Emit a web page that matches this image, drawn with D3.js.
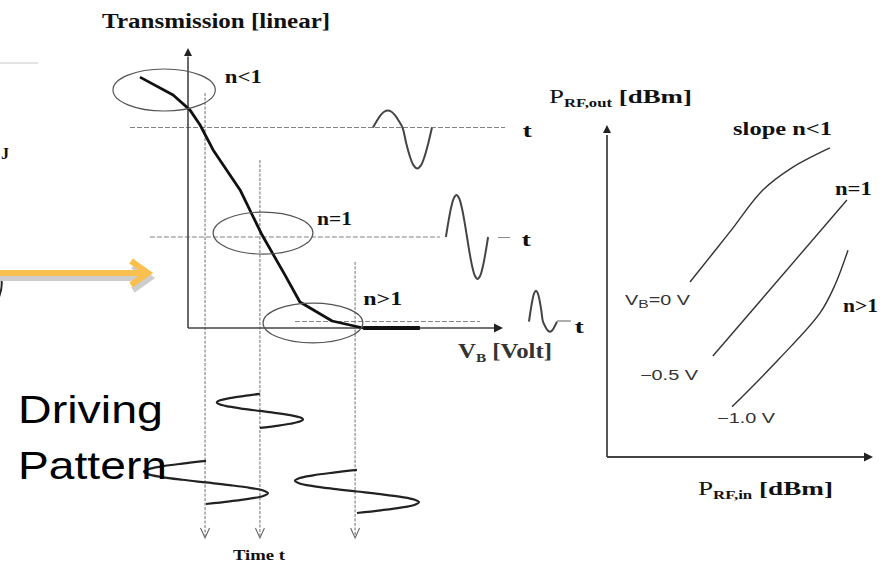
<!DOCTYPE html>
<html>
<head>
<meta charset="utf-8">
<script src="https://cdn.jsdelivr.net/npm/d3@7"></script>
<style>
  body { margin: 0; background: #fff; }
  svg { display: block; }
</style>
</head>
<body>
<script>
// ---- left panel : transmission vs bias (units 0..100 on both axes) ----
var transVB = [-15.5, -4.8, 0.6, 3.9, 8.1, 16.8, 23.9, 31.3, 36.1, 46.5, 56.5];
var transT  = [89.6, 83.2, 77.9, 72.5, 63.6, 49.3, 33.2, 18.9, 9.3, 2.5, 0];
var tailVB  = [56.5, 74.8];

var regimes   = ["n<1", "n=1", "n>1"];
var biasVB    = [5.5, 23.2, 53.9];     // drop lines to the time axis
var dropTop   = [83.9, 60, 23.6];
var levelT    = [71.6, 32.5, 2.3];     // output level for each bias
var levelFrom = [-18.7, -12.3, 34.5];
var levelTo   = [102.3, 81.3, 94.2];

var ellVB = [-7.7, 24.2, 40.3];
var ellT  = [85, 33.9, 1.8];
var ellRx = [16.5, 16.1, 16.1];
var ellRy = [7.5, 7.5, 7.1];

// one hand drawn cycle, reused for the output and drive waves
var cycle = [0, .383, .707, .924, 1, .924, .707, .383, 0, -.383, -.707, -.924, -1, -.924, -.707, -.383, 0];

var waveFrom = [59.7, 83.2, 110];
var waveTo   = [78.7, 96.8, 119];
var waveUp   = [6.1, 15, 11];
var waveDown = [14.6, 15, 3.6];

var driveVB  = [23.2, 5.8, 54.5];
var driveAmp = [13.9, 20, 20];
var driveT0  = [31.4, 63.3, 67.6];
var drivePer = [16.2, 20.5, 20.5];

// ---- right panel : Pout vs Pin ----
var biasNames = ["0 V", "\u22120.5 V", "\u22121.0 V"];
var pinA = [31.2, 46.2, 58.6, 69.9, 83.8], poutA = [52.7, 67.8, 80.4, 87.3, 93.1];
var pinB = [39.8, 90.2],                   poutB = [30.4, 77.4];
var pinC = [47, 65, 80.1, 85.7, 90.6],     poutC = [15.1, 29.8, 43.4, 51.8, 62.3];

var serif = "'Liberation Serif','Times New Roman',serif";
var sans = "'Liberation Sans',Arial,sans-serif";

var svg = d3.select("body").append("svg").attr("width", 893).attr("height", 564);

var xL = d3.scaleLinear().domain([0, 100]).range([188, 498]);
var yL = d3.scaleLinear().domain([0, 100]).range([328, 48]);
var tL = d3.scaleLinear().domain([0, 100]).range([328, 538]);
var xR = d3.scaleLinear().domain([0, 100]).range([607, 873]);
var yR = d3.scaleLinear().domain([0, 100]).range([457, 125]);

function label(x, y, str, size, w, opt) {
  opt = opt || {};
  var t = svg.append("text").attr("x", x).attr("y", y)
    .style("font-family", opt.family || serif)
    .style("font-weight", opt.weight || "bold")
    .style("font-size", size + "px")
    .attr("fill", opt.fill || "#111")
    .text(str);
  if (w) t.attr("textLength", w).attr("lengthAdjust", "spacingAndGlyphs");
  return t;
}
function subLabel(x, y, main, sub, rest, size, w, opt) {
  opt = opt || {};
  var t = svg.append("text").attr("x", x).attr("y", y)
    .style("font-family", opt.family || serif)
    .style("font-weight", "bold")
    .style("font-size", size + "px")
    .attr("fill", opt.fill || "#111");
  t.append("tspan").text(main).style("font-weight", opt.mainWeight || "bold");
  t.append("tspan").attr("dy", 4).style("font-size", (size * 0.62) + "px").text(sub);
  t.append("tspan").attr("dy", -4).text(rest);
  if (w) t.attr("textLength", w).attr("lengthAdjust", "spacingAndGlyphs");
  return t;
}

// slide leftovers on the left edge
svg.append("line").attr("x1", 0).attr("x2", 38).attr("y1", 63).attr("y2", 63)
  .attr("stroke", "#c8c8c8").attr("stroke-width", 1);
label(1, 159, "J", 17, 8);
svg.append("path").attr("d", "M-2,268 Q5,282 -1,297").attr("fill", "none")
  .attr("stroke", "#222").attr("stroke-width", 2);

// orange pointer arrow with its shadow
[["#cdcdcd", 2, 5], ["#F9C04F", 0, 0]].forEach(function(a) {
  var g = svg.append("g").attr("transform", "translate(" + a[1] + "," + a[2] + ")")
    .attr("stroke", a[0]).attr("stroke-width", 6).attr("fill", "none");
  g.append("line").attr("x1", -5).attr("x2", 144).attr("y1", 273).attr("y2", 273);
  g.append("path").attr("d", "M131,261 L148,273 L131,285").attr("stroke-linejoin", "miter");
});

// ---- left panel ----
// dashed output levels
levelT.forEach(function(v, i) {
  svg.append("line").attr("x1", xL(levelFrom[i])).attr("x2", xL(levelTo[i]))
    .attr("y1", yL(v)).attr("y2", yL(v))
    .attr("stroke", "#808080").attr("stroke-width", 1).attr("stroke-dasharray", "5,2");
});
svg.append("line").attr("x1", xL(100)).attr("x2", xL(103.9))
  .attr("y1", yL(32.3)).attr("y2", yL(32.3)).attr("stroke", "#888").attr("stroke-width", 1);
svg.append("line").attr("x1", xL(119)).attr("x2", xL(123.5))
  .attr("y1", yL(2.5)).attr("y2", yL(2.5)).attr("stroke", "#777").attr("stroke-width", 1.2);

// drop lines down to the time axis
biasVB.forEach(function(v, i) {
  var x = xL(v);
  svg.append("line").attr("x1", x).attr("x2", x).attr("y1", yL(dropTop[i])).attr("y2", tL(99))
    .attr("stroke", "#6e6e6e").attr("stroke-width", 1).attr("stroke-dasharray", "3,1.5");
  svg.append("path").attr("d", "M" + (x - 4.5) + "," + (tL(100) - 10) + " L" + x + "," + tL(100) + " L" + (x + 4.5) + "," + (tL(100) - 10))
    .attr("fill", "none").attr("stroke", "#666").attr("stroke-width", 1.1);
});

// axes
svg.append("line").attr("x1", xL(0)).attr("x2", xL(0)).attr("y1", yL(0)).attr("y2", yL(97))
  .attr("stroke", "#444").attr("stroke-width", 1.6);
svg.append("path").attr("d", "M" + (xL(0) - 4) + "," + (yL(100) + 8) + " L" + xL(0) + "," + yL(100) + " L" + (xL(0) + 4) + "," + (yL(100) + 8) + "Z")
  .attr("fill", "#222");
svg.append("line").attr("x1", xL(0)).attr("x2", xL(100)).attr("y1", yL(0)).attr("y2", yL(0))
  .attr("stroke", "#444").attr("stroke-width", 1.6);
svg.append("path").attr("d", "M" + (xL(100) - 4) + "," + (yL(0) - 4.5) + " L" + (xL(100) + 5) + "," + yL(0) + " L" + (xL(100) - 4) + "," + (yL(0) + 4.5) + "Z")
  .attr("fill", "#222");

// transmission curve
var lineL = d3.line().x(function(d) { return xL(d[0]); }).y(function(d) { return yL(d[1]); });
svg.append("path").datum(d3.zip(transVB, transT)).attr("d", lineL)
  .attr("fill", "none").attr("stroke", "#111").attr("stroke-width", 2.8).attr("stroke-linejoin", "round");
svg.append("path").datum(tailVB.map(function(v) { return [v, 0]; })).attr("d", lineL)
  .attr("fill", "none").attr("stroke", "#111").attr("stroke-width", 4);

// ellipses and regime labels
ellVB.forEach(function(v, i) {
  svg.append("ellipse").attr("cx", xL(v)).attr("cy", yL(ellT[i]))
    .attr("rx", xL(ellRx[i]) - xL(0)).attr("ry", yL(0) - yL(ellRy[i]))
    .attr("fill", "none").attr("stroke", "#555").attr("stroke-width", 1.2);
});
label(xL(11.9), yL(87.5), regimes[0], 18, 37);
label(xL(41.6), yL(36.8), regimes[1], 18, 35);
label(xL(56.5), yL(8.2), regimes[2], 18, 39);

// output waves
waveFrom.forEach(function(x0, i) {
  var pts = cycle.map(function(c, k) {
    var x = x0 + (waveTo[i] - x0) * k / (cycle.length - 1);
    return [x, levelT[i] + (c > 0 ? c * waveUp[i] : c * waveDown[i])];
  });
  svg.append("path").datum(pts).attr("d", lineL.curve(d3.curveCatmullRom))
    .attr("fill", "none").attr("stroke", "#444").attr("stroke-width", 2);
});
lineL.curve(d3.curveLinear);
label(xL(108), yL(68.2), "t", 18, 9);
label(xL(107.7), yL(29.3), "t", 18, 9);
label(xL(124.8), yL(-1.8), "t", 18, 9);

// drive patterns on the time axis
var lineT = d3.line().x(function(d) { return xL(d[0]); }).y(function(d) { return tL(d[1]); })
  .curve(d3.curveCatmullRom);
driveVB.forEach(function(v, i) {
  var pts = cycle.map(function(c, k) {
    return [v - driveAmp[i] * c, driveT0[i] + drivePer[i] * k / (cycle.length - 1)];
  });
  svg.append("path").datum(pts).attr("d", lineT)
    .attr("fill", "none").attr("stroke", "#222").attr("stroke-width", 2.2);
});

label(xL(-27.7), 28, "Transmission [linear]", 20, 228);
subLabel(xL(87.1), yL(-10.7), "V", "B", " [Volt]", 20, 94, { fill: "#333" });
label(xL(14.5), tL(110.5), "Time t", 14, 52);

label(18, 423, "Driving", 39, 145, { family: sans, weight: "normal", fill: "#000" });
label(18, 479, "Pattern", 39, 149, { family: sans, weight: "normal", fill: "#000" });

// ---- right panel ----
svg.append("line").attr("x1", xR(0)).attr("x2", xR(0)).attr("y1", yR(0)).attr("y2", yR(97))
  .attr("stroke", "#444").attr("stroke-width", 1.8);
svg.append("path").attr("d", "M" + (xR(0) - 4) + "," + (yR(100) + 8) + " L" + xR(0) + "," + yR(100) + " L" + (xR(0) + 4) + "," + (yR(100) + 8) + "Z")
  .attr("fill", "#222");
svg.append("line").attr("x1", xR(0)).attr("x2", xR(97)).attr("y1", yR(0)).attr("y2", yR(0))
  .attr("stroke", "#444").attr("stroke-width", 1.8);
svg.append("path").attr("d", "M" + (xR(100) - 9) + "," + (yR(0) - 4.5) + " L" + xR(100) + "," + yR(0) + " L" + (xR(100) - 9) + "," + (yR(0) + 4.5) + "Z")
  .attr("fill", "#222");

var lineR = d3.line().x(function(d) { return xR(d[0]); }).y(function(d) { return yR(d[1]); })
  .curve(d3.curveCatmullRom);
[[pinA, poutA], [pinB, poutB], [pinC, poutC]].forEach(function(c) {
  svg.append("path").datum(d3.zip(c[0], c[1])).attr("d", lineR)
    .attr("fill", "none").attr("stroke", "#333").attr("stroke-width", 1.4);
});

subLabel(549, 103, "P", "RF,out", " [dBm]", 19, 143, { mainWeight: "normal" });
subLabel(698, 495, "P", "RF,in", " [dBm]", 19, 135, { mainWeight: "normal" });
label(xR(47.4), yR(97), "slope n<1", 19, 99);
label(xR(85.7), yR(78.9), regimes[1], 19, 37);
label(xR(88.7), yR(43.7), regimes[2], 19, 35);

var vb = svg.append("text").attr("x", xR(6.8)).attr("y", yR(45.8))
  .style("font-family", sans).style("font-size", "14px").attr("fill", "#333")
  .attr("textLength", 65).attr("lengthAdjust", "spacingAndGlyphs");
vb.append("tspan").text("V");
vb.append("tspan").attr("dy", 3).style("font-size", "11px").text("B");
vb.append("tspan").attr("dy", -3).text("=" + biasNames[0]);
label(xR(12.4), yR(23.2), biasNames[1], 14, 58, { family: sans, weight: "normal", fill: "#333" });
label(xR(41.4), yR(10.2), biasNames[2], 14, 58, { family: sans, weight: "normal", fill: "#333" });
</script>
</body>
</html>
